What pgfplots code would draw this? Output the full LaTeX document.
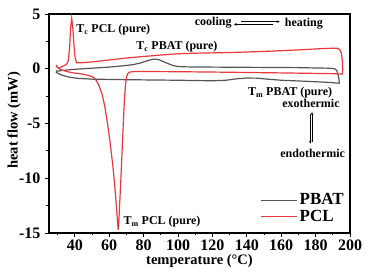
\documentclass[border=0pt]{standalone}
\usepackage{pgfplots}
\pgfplotsset{compat=1.18}
\usepackage{fontspec}
\setmainfont{Liberation Serif}
\usetikzlibrary{arrows.meta}
\definecolor{pclred}{HTML}{E8383A}
\definecolor{pbatgray}{HTML}{555555}
\begin{document}
\begin{tikzpicture}
\begin{axis}[
  scale only axis,
  width=301pt, height=219pt,
  xmin=25, xmax=200, ymin=-15, ymax=5,
  xtick={40,60,...,200},
  xticklabels={40,60,80,100,120,140,160,180,200},
  minor xtick={30,50,...,190},
  ytick={-15,-10,-5,0,5},
  yticklabels={-15,-10,-5,0,5},
  minor ytick={-12.5,-7.5,-2.5,2.5},
  xtick pos=left, ytick pos=left,
  tick align=outside,
  major tick length=4pt, minor tick length=2.5pt,
  every tick/.style={black, line width=0.9pt},
  axis line style={line width=1.1pt},
  tick label style={font=\bfseries\fontsize{16}{16}\selectfont},
  xticklabel style={yshift=1pt},
  yticklabel style={xshift=-1pt},
  xlabel={temperature (°C)},
  ylabel={heat flow (mW)},
  label style={font=\bfseries\fontsize{14.5}{14.5}\selectfont},
  xlabel style={yshift=3pt},
  ylabel style={at={(axis description cs:-0.116,0.515)}, anchor=center},
  legend style={draw=none, fill=none, at={(0.99,0.03)}, anchor=south east,
    font=\bfseries\fontsize{17}{17}\selectfont, row sep=0pt, inner sep=1pt},
  legend cell align=left,
  legend image code/.code={\draw[#1, line width=1.2pt] (0pt,0pt) -- (36pt,0pt);},
]
\addplot[pbatgray, line width=1.2pt] coordinates {
(29,-0.30) (30,-0.40) (32,-0.55) (35,-0.70) (38,-0.80) (42,-0.88) (50,-0.95)
(70,-1.00) (100,-1.05) (120,-1.10) (128,-1.05) (134,-0.92) (140,-0.85) (146,-0.86)
(152,-0.95) (160,-1.05) (175,-1.15) (188,-1.25) (193,-1.32) (193.8,-1.30)
(193.5,-0.90) (193,-0.50) (192.3,-0.15) (191,0.00) (188,0.05) (170,0.10)
(150,0.12) (120,0.15) (105,0.17) (100,0.20) (97,0.30) (93,0.55) (89,0.82)
(87,0.88) (85,0.85) (82,0.72) (78,0.52) (74,0.38) (70,0.30) (60,0.15)
(50,0.05) (40,-0.05) (33,-0.15) (30,-0.22) (29,-0.20)
};
\addlegendentry{PBAT}
\addplot[pclred, line width=1.2pt] coordinates {
(29.0,0.30) (30.0,0.10) (32,-0.10) (36,-0.28) (40,-0.40) (45,-0.50) (50,-0.70)
(52,-0.95) (54,-1.5) (56,-2.4) (57.5,-3.5) (59,-5.0) (60.5,-6.7) (62,-8.7)
(63.2,-10.6) (64.2,-12.6) (64.9,-14.1) (65.2,-14.7) (65.6,-14.0) (66.2,-12.0)
(66.8,-10.0) (67.5,-7.5) (68.2,-5.0) (68.8,-3.0) (69.4,-1.6) (70.0,-0.8)
(70.8,-0.45) (72,-0.30) (75,-0.25) (100,-0.27) (130,-0.32) (160,-0.38)
(190,-0.45) (195.5,-0.48) (195.8,0.0) (195.5,0.8) (195,1.4) (194,1.75)
(192.5,1.88) (185,1.85) (170,1.72) (150,1.58) (130,1.48) (110,1.42) (100,1.37)
(90,1.25) (80,1.12) (70,0.98) (60,0.80) (50,0.62) (44,0.55) (41,0.55)
(40.2,1.0) (39.5,2.2) (38.8,3.8) (38.2,4.6) (37.6,3.8) (37.0,2.0) (36.3,0.8)
(35.5,0.45) (34,0.3) (32,0.15) (30.5,0.05) (29.8,0.15) (29.3,0.35)
};
\addlegendentry{PCL}
% annotations
\tikzset{ann/.style={font=\bfseries\fontsize{12}{12}\selectfont, inner sep=0pt}}
\node[ann, anchor=west] at (axis cs:40.8,3.6) {T\textsubscript{c} PCL (pure)};
\node[ann, anchor=west] at (axis cs:75.7,2.0) {T\textsubscript{c} PBAT (pure)};
\node[ann, anchor=west] at (axis cs:109.7,4.2) {cooling};
\node[ann, anchor=west] at (axis cs:162.0,4.15) {heating};
\draw[-{Stealth[length=3pt,width=2.5pt]}, line width=0.5pt] (axis cs:155.5,4.05) -- (axis cs:132.5,4.05);
\draw[-{Stealth[length=3pt,width=2.5pt]}, line width=0.5pt] (axis cs:136.5,4.3) -- (axis cs:159.2,4.3);
\node[ann, anchor=west] at (axis cs:140.6,-2.2) {T\textsubscript{m} PBAT (pure)};
\node[ann] at (axis cs:177.3,-3.2) {exothermic};
\node[ann] at (axis cs:178.3,-7.75) {endothermic};
\draw[-{Stealth[length=3pt,width=2.5pt]}, line width=0.5pt] (axis cs:177.9,-6.7) -- (axis cs:177.9,-3.95);
\draw[-{Stealth[length=3pt,width=2.5pt]}, line width=0.5pt] (axis cs:176.9,-4.1) -- (axis cs:176.9,-6.85);
\node[ann, anchor=west] at (axis cs:68.2,-13.95) {T\textsubscript{m} PCL (pure)};
\end{axis}
\pgfresetboundingbox
\path ([shift={(-49pt,-46pt)}]current axis.south west) rectangle ([shift={(17pt,14pt)}]current axis.north east);
\end{tikzpicture}
\end{document}
